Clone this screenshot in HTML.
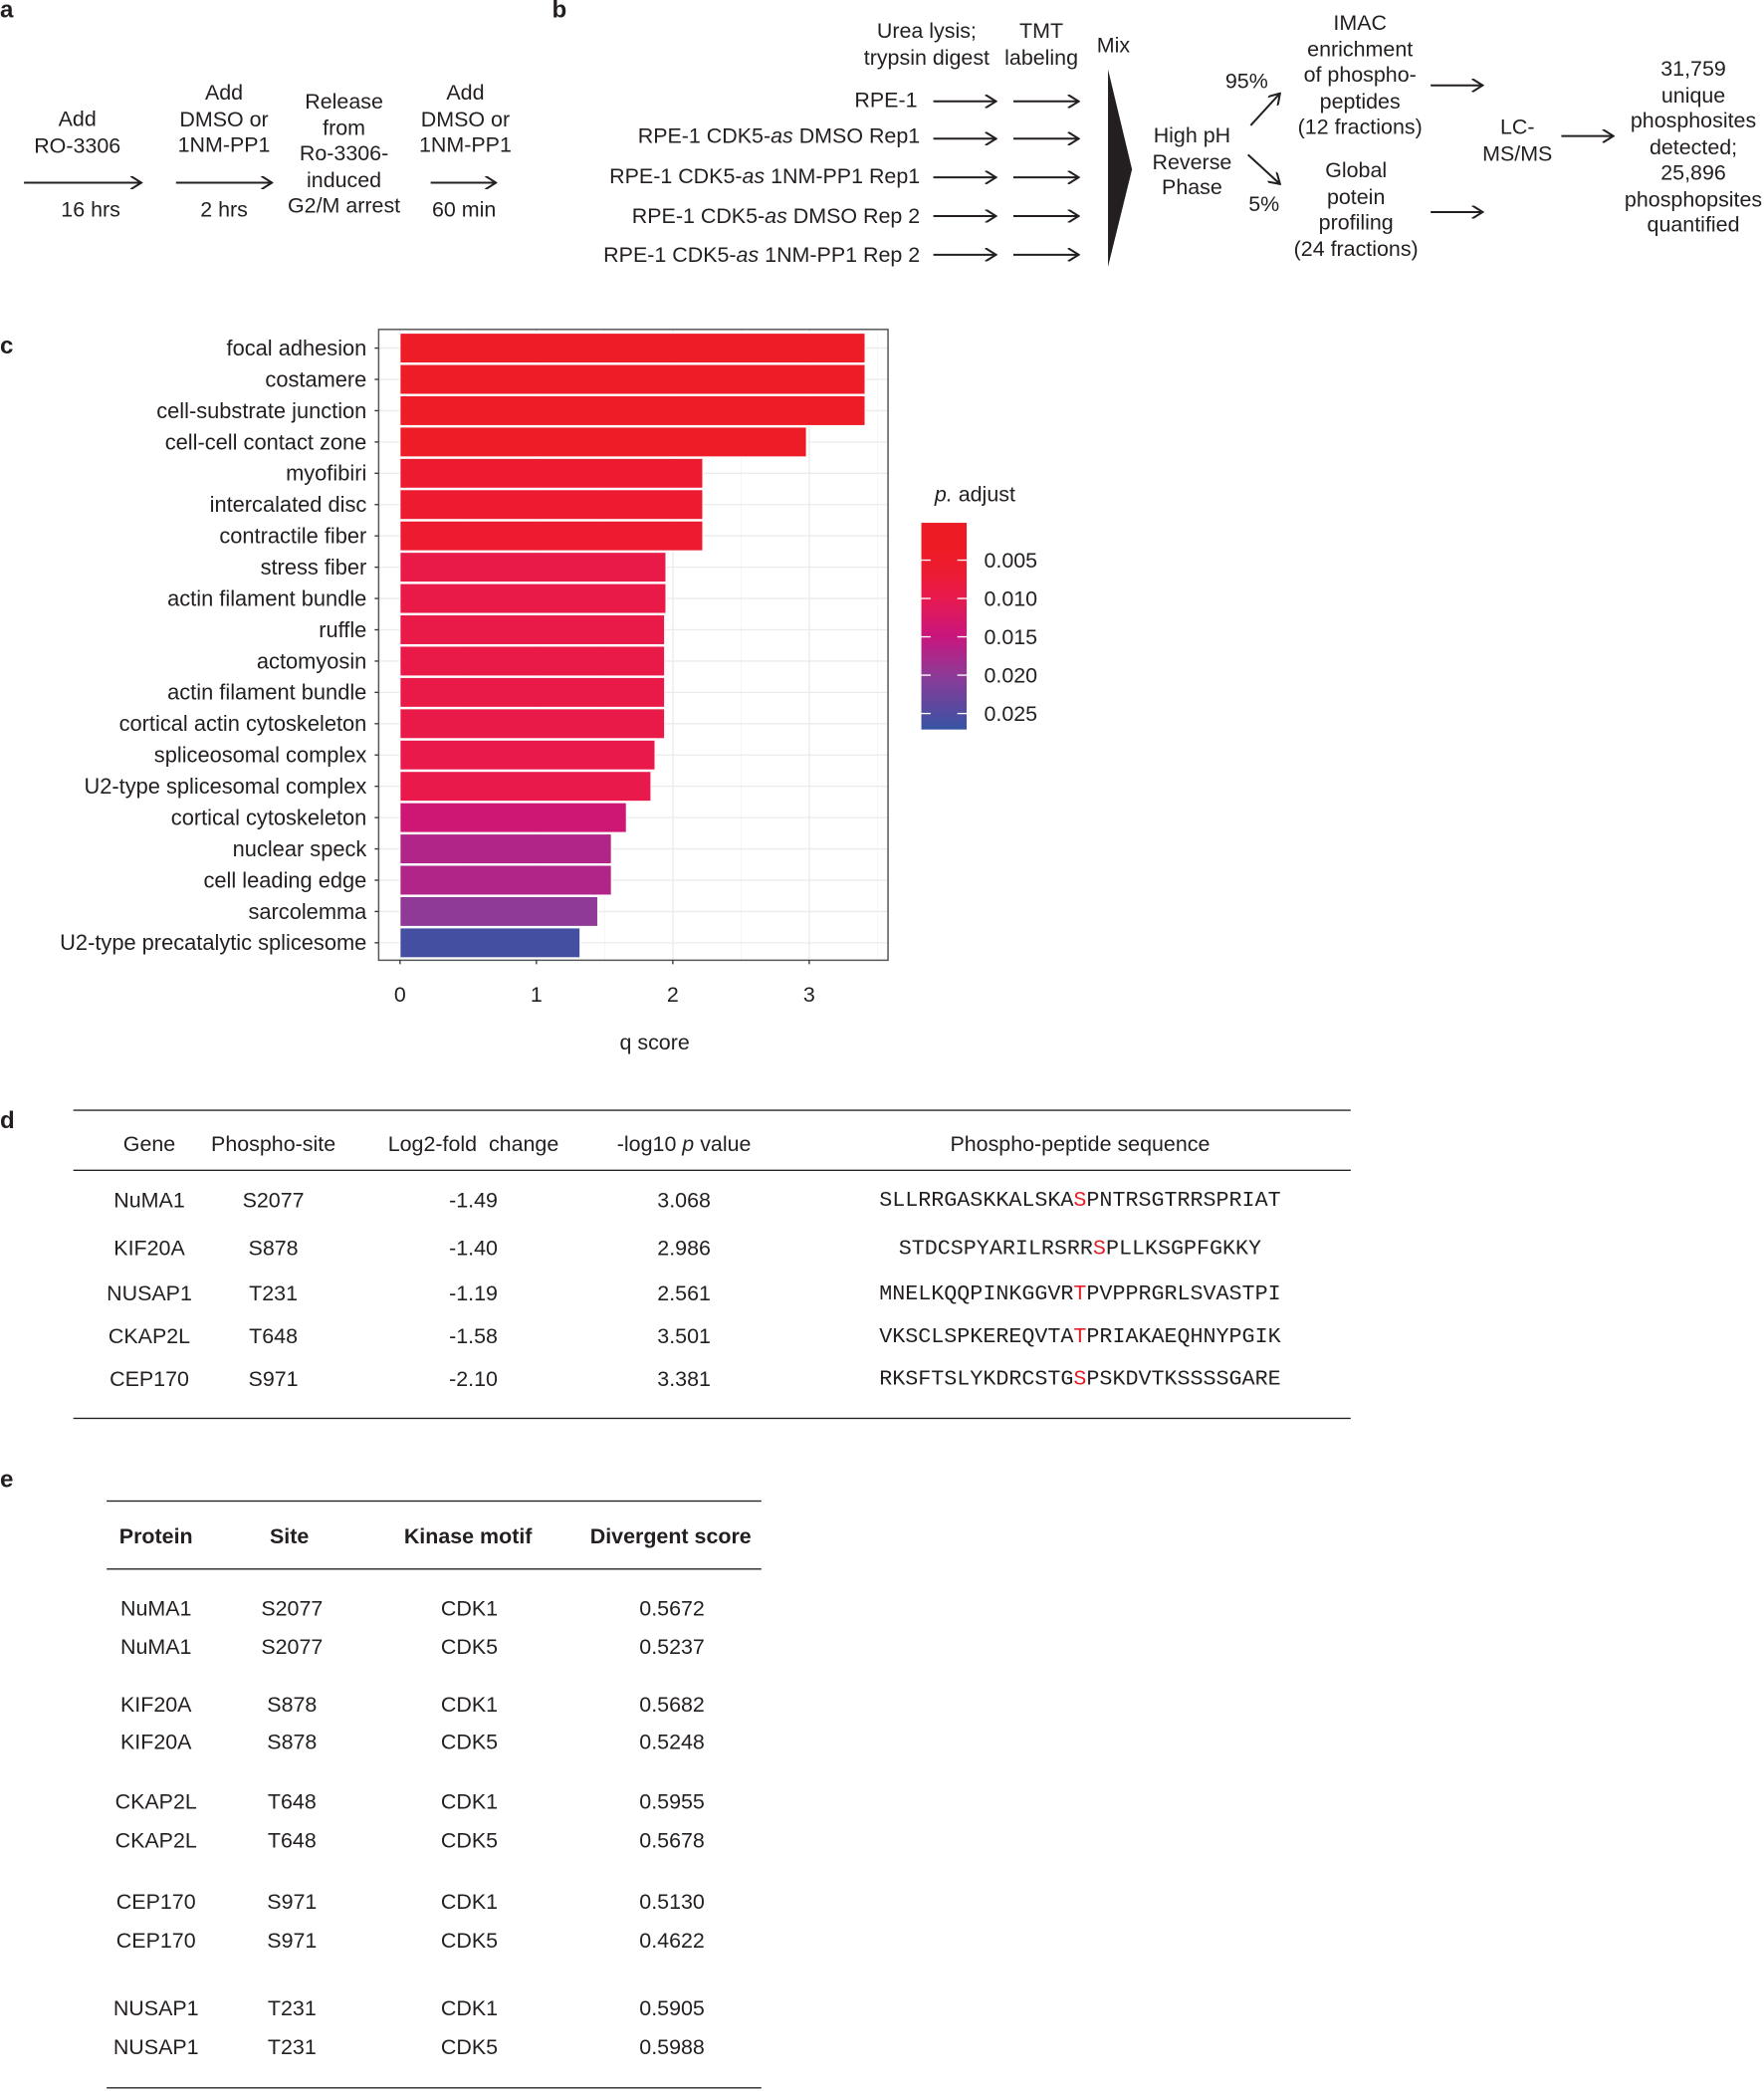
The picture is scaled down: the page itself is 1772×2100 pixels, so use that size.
<!DOCTYPE html>
<html><head><meta charset="utf-8">
<style>
body{margin:0;background:#fff;}
#page{position:relative;width:1772px;height:2100px;overflow:hidden;background:#fff;}
#s{position:absolute;left:0;top:0;width:1323px;height:1568px;transform:scale(1.3394);transform-origin:0 0;font-family:"Liberation Sans",Arial,sans-serif;font-size:16px;color:#231f20;}
.t{position:absolute;transform:translate(-50%,-50%);white-space:nowrap;text-align:center;line-height:19.5px;}
.r{position:absolute;transform:translate(-100%,-50%);white-space:nowrap;text-align:right;line-height:19.5px;}
.lbl{position:absolute;font-weight:bold;font-size:18px;}
.hl{position:absolute;height:0;border-top:1.6px solid #231f20;}
.mono{font-family:"Liberation Mono","Courier New",monospace;font-size:16.2px;}
.red{color:#e31e24;}
.b{font-weight:bold;}
svg{position:absolute;left:0;top:0;}
</style></head><body>
<div id="page"><div id="s">

<svg width="1323" height="240">
<defs><marker id="ah" markerWidth="10" markerHeight="10" refX="9" refY="5" orient="auto" markerUnits="userSpaceOnUse"><path d="M1,0 L9,5 L1,10" fill="none" stroke="#231f20" stroke-width="1.5"/></marker></defs>
<g stroke="#231f20" stroke-width="1.5">
<line x1="18" y1="137" x2="106" y2="137" marker-end="url(#ah)"/>
<line x1="132" y1="137" x2="204" y2="137" marker-end="url(#ah)"/>
<line x1="323" y1="137" x2="372" y2="137" marker-end="url(#ah)"/>
<line x1="700" y1="76" x2="747" y2="76" marker-end="url(#ah)"/><line x1="760" y1="76" x2="809" y2="76" marker-end="url(#ah)"/>
<line x1="700" y1="104" x2="747" y2="104" marker-end="url(#ah)"/><line x1="760" y1="104" x2="809" y2="104" marker-end="url(#ah)"/>
<line x1="700" y1="133" x2="747" y2="133" marker-end="url(#ah)"/><line x1="760" y1="133" x2="809" y2="133" marker-end="url(#ah)"/>
<line x1="700" y1="162" x2="747" y2="162" marker-end="url(#ah)"/><line x1="760" y1="162" x2="809" y2="162" marker-end="url(#ah)"/>
<line x1="700" y1="191" x2="747" y2="191" marker-end="url(#ah)"/><line x1="760" y1="191" x2="809" y2="191" marker-end="url(#ah)"/>
<line x1="938" y1="94" x2="960" y2="70" marker-end="url(#ah)"/>
<line x1="936" y1="116" x2="960" y2="138" marker-end="url(#ah)"/>
<line x1="1073" y1="64" x2="1112" y2="64" marker-end="url(#ah)"/>
<line x1="1073" y1="159" x2="1112" y2="159" marker-end="url(#ah)"/>
<line x1="1171" y1="102" x2="1210" y2="102" marker-end="url(#ah)"/>
</g>
<path d="M831,52 L849,127 L831,200 Z" fill="#231f20"/>
</svg>

<div class="lbl" style="left:0;top:-3px">a</div>
<div class="t" style="left:58px;top:100px">Add<br>RO-3306</div>
<div class="t" style="left:68px;top:158px">16 hrs</div>
<div class="t" style="left:168px;top:90px">Add<br>DMSO or<br>1NM-PP1</div>
<div class="t" style="left:168px;top:158px">2 hrs</div>
<div class="t" style="left:258px;top:116px">Release<br>from<br>Ro-3306-<br>induced<br>G2/M arrest</div>
<div class="t" style="left:349px;top:90px">Add<br>DMSO or<br>1NM-PP1</div>
<div class="t" style="left:348px;top:158px">60 min</div>

<div class="lbl" style="left:414px;top:-3px">b</div>
<div class="t" style="left:695px;top:34px">Urea lysis;<br>trypsin digest</div>
<div class="t" style="left:781px;top:34px">TMT<br>labeling</div>
<div class="t" style="left:835px;top:35px">Mix</div>
<div class="r" style="left:688px;top:76px">RPE-1</div>
<div class="r" style="left:690px;top:103px">RPE-1 CDK5-<i>as</i> DMSO Rep1</div>
<div class="r" style="left:690px;top:133px">RPE-1 CDK5-<i>as</i> 1NM-PP1 Rep1</div>
<div class="r" style="left:690px;top:163px">RPE-1 CDK5-<i>as</i> DMSO Rep 2</div>
<div class="r" style="left:690px;top:192px">RPE-1 CDK5-<i>as</i> 1NM-PP1 Rep 2</div>
<div class="t" style="left:894px;top:122px">High pH<br>Reverse<br>Phase</div>
<div class="t" style="left:935px;top:62px">95%</div>
<div class="t" style="left:948px;top:154px">5%</div>
<div class="t" style="left:1020px;top:57px">IMAC<br>enrichment<br>of phospho-<br>peptides<br>(12 fractions)</div>
<div class="t" style="left:1017px;top:158px">Global<br>potein<br>profiling<br>(24 fractions)</div>
<div class="t" style="left:1138px;top:106px">LC-<br>MS/MS</div>
<div class="t" style="left:1270px;top:111px">31,759<br>unique<br>phosphosites<br>detected;<br>25,896<br>phosphopsites<br>quantified</div>

<div class="lbl" style="left:0;top:249px">c</div>
<svg id="chart" width="1323" height="800"></svg>

<div class="lbl" style="left:0;top:830px">d</div>
<div class="hl" style="left:55px;width:958px;top:832px"></div>
<div class="hl" style="left:55px;width:958px;top:877px"></div>
<div class="hl" style="left:55px;width:958px;top:1063px"></div>
<div class="t" style="left:112px;top:859px">Gene</div>
<div class="t" style="left:205px;top:859px">Phospho-site</div>
<div class="t" style="left:355px;top:859px">Log2-fold&nbsp; change</div>
<div class="t" style="left:513px;top:859px">-log10 <i>p</i> value</div>
<div class="t" style="left:810px;top:859px">Phospho-peptide sequence</div>

<div>
<div class="t" style="left:112px;top:901px">NuMA1</div><div class="t" style="left:205px;top:901px">S2077</div><div class="t" style="left:355px;top:901px">-1.49</div><div class="t" style="left:513px;top:901px">3.068</div><div class="t mono" style="left:810px;top:901px">SLLRRGASKKALSKA<span class="red">S</span>PNTRSGTRRSPRIAT</div></div>
<div>
<div class="t" style="left:112px;top:937px">KIF20A</div><div class="t" style="left:205px;top:937px">S878</div><div class="t" style="left:355px;top:937px">-1.40</div><div class="t" style="left:513px;top:937px">2.986</div><div class="t mono" style="left:810px;top:937px">STDCSPYARILRSRR<span class="red">S</span>PLLKSGPFGKKY</div></div>
<div>
<div class="t" style="left:112px;top:971px">NUSAP1</div><div class="t" style="left:205px;top:971px">T231</div><div class="t" style="left:355px;top:971px">-1.19</div><div class="t" style="left:513px;top:971px">2.561</div><div class="t mono" style="left:810px;top:971px">MNELKQQPINKGGVR<span class="red">T</span>PVPPRGRLSVASTPI</div></div>
<div>
<div class="t" style="left:112px;top:1003px">CKAP2L</div><div class="t" style="left:205px;top:1003px">T648</div><div class="t" style="left:355px;top:1003px">-1.58</div><div class="t" style="left:513px;top:1003px">3.501</div><div class="t mono" style="left:810px;top:1003px">VKSCLSPKEREQVTA<span class="red">T</span>PRIAKAEQHNYPGIK</div></div>
<div>
<div class="t" style="left:112px;top:1035px">CEP170</div><div class="t" style="left:205px;top:1035px">S971</div><div class="t" style="left:355px;top:1035px">-2.10</div><div class="t" style="left:513px;top:1035px">3.381</div><div class="t mono" style="left:810px;top:1035px">RKSFTSLYKDRCSTG<span class="red">S</span>PSKDVTKSSSSGARE</div></div>

<div class="lbl" style="left:0;top:1099px">e</div>
<div class="hl" style="left:80px;width:491px;top:1125px"></div>
<div class="hl" style="left:80px;width:491px;top:1176px"></div>
<div class="hl" style="left:80px;width:491px;top:1565px"></div>
<div class="t b" style="left:117px;top:1153px">Protein</div>
<div class="t b" style="left:217px;top:1153px">Site</div>
<div class="t b" style="left:351px;top:1153px">Kinase motif</div>
<div class="t b" style="left:503px;top:1153px">Divergent score</div>
<div id="tabE"></div>

</div></div>
<script>
// ---- Panel c data ----
const terms=["focal adhesion","costamere","cell-substrate junction","cell-cell contact zone","myofibiri","intercalated disc","contractile fiber","stress fiber","actin filament bundle","ruffle","actomyosin","actin filament bundle","cortical actin cytoskeleton","spliceosomal complex","U2-type splicesomal complex","cortical cytoskeleton","nuclear speck","cell leading edge","sarcolemma","U2-type precatalytic splicesome"];
const qScores=[3.41,3.41,3.41,2.98,2.22,2.22,2.22,1.95,1.95,1.94,1.94,1.94,1.94,1.87,1.84,1.66,1.55,1.55,1.45,1.32];
const pAdjust=[0.004,0.004,0.004,0.004,0.006,0.006,0.006,0.009,0.009,0.009,0.009,0.009,0.009,0.0095,0.0095,0.014,0.017,0.017,0.020,0.026];
const xTicks=[0,1,2,3];
const legendTicks=[0.005,0.010,0.015,0.020,0.025];
const legendLabels=["0.005","0.010","0.015","0.020","0.025"];

const NS="http://www.w3.org/2000/svg";
const svg=document.getElementById('chart');
function mk(tag,attrs,parent){const e=document.createElementNS(NS,tag);for(const k in attrs)e.setAttribute(k,attrs[k]);(parent||svg).appendChild(e);return e;}
const px0=284,px1=666,py0=247,py1=720;
const xs=v=>300+v*102.3;
const ys=i=>261+i*23.47;
const stops=[[0.0035,[237,28,36]],[0.007,[236,27,52]],[0.010,[232,26,80]],[0.015,[200,22,126]],[0.020,[142,58,150]],[0.027,[56,83,164]]];
function col(p){if(p<=stops[0][0])return 'rgb('+stops[0][1]+')';for(let i=1;i<stops.length;i++){if(p<=stops[i][0]){const a=stops[i-1],b=stops[i];const t=(p-a[0])/(b[0]-a[0]);return 'rgb('+a[1].map((c,j)=>Math.round(c+(b[1][j]-c)*t)).join(',')+')';}}return 'rgb('+stops[stops.length-1][1]+')';}
const legTop=392,legBot=547;
const legY=p=>420+(p-0.005)*5750;

const panel=mk('rect',{x:px0,y:py0,width:px1-px0,height:py1-py0,fill:'#fff'});


for(let v=0.5;v<3.6;v+=1){const g=mk('line',{x1:xs(v),x2:xs(v),y1:py0,y2:py1,stroke:'#f4f4f4','stroke-width':0.6});

}
xTicks.forEach(v=>{const g=mk('line',{x1:xs(v),x2:xs(v),y1:py0,y2:py1,stroke:'#ebebeb','stroke-width':1});

});
terms.forEach((t,i)=>{const g=mk('line',{x1:px0,x2:px1,y1:ys(i),y2:ys(i),stroke:'#ebebeb','stroke-width':1});

});
terms.forEach((t,i)=>{
 const b=mk('rect',{x:xs(0),y:ys(i)-11.2,width:xs(qScores[i])-xs(0),height:22.4,fill:col(pAdjust[i]),stroke:'#fff','stroke-width':0.8});
 
 
 const tk=mk('line',{x1:px0-3,x2:px0,y1:ys(i),y2:ys(i),stroke:'#333','stroke-width':1});
 
 
 const l=mk('text',{x:px0-9,y:ys(i)+5.5,'text-anchor':'end','font-size':16.3,fill:'#231f20'});
 l.textContent=t;
 
 
});
const border=mk('rect',{x:px0,y:py0,width:px1-px0,height:py1-py0,fill:'none',stroke:'#555','stroke-width':1.1});


xTicks.forEach(v=>{const tk=mk('line',{x1:xs(v),x2:xs(v),y1:py1,y2:py1+3,stroke:'#333','stroke-width':1});


const l=mk('text',{x:xs(v),y:751,'text-anchor':'middle','font-size':16,fill:'#231f20'});l.textContent=v;

});
const xt=mk('text',{x:491,y:787,'text-anchor':'middle','font-size':16,fill:'#231f20'});xt.textContent='q score';


// legend
const lt=mk('text',{x:701,y:376,'font-size':16,fill:'#231f20'});


const ti=mk('tspan',{'font-style':'italic'},lt);ti.textContent='p.';const tr=mk('tspan',{},lt);tr.textContent=' adjust';
const defs=mk('defs',{});const lg=mk('linearGradient',{id:'lg',x1:0,y1:0,x2:0,y2:1},defs);
stops.forEach(s=>{const off=Math.max(0,Math.min(1,(legY(s[0])-legTop)/(legBot-legTop)));mk('stop',{offset:off,'stop-color':col(s[0])},lg);});
const lb=mk('rect',{x:691,y:legTop,width:34,height:legBot-legTop,fill:'url(#lg)'});


legendTicks.forEach((p,i)=>{const y=legY(p);
mk('line',{x1:691,x2:698,y1:y,y2:y,stroke:'#fff','stroke-width':1});mk('line',{x1:718,x2:725,y1:y,y2:y,stroke:'#fff','stroke-width':1});
const l=mk('text',{x:738,y:y+5.5,'font-size':16,fill:'#231f20'});l.textContent=legendLabels[i];

});

// ---- Panel e table ----
const eRows=[["NuMA1","S2077","CDK1","0.5672",1207],["NuMA1","S2077","CDK5","0.5237",1236],["KIF20A","S878","CDK1","0.5682",1279],["KIF20A","S878","CDK5","0.5248",1307],["CKAP2L","T648","CDK1","0.5955",1352],["CKAP2L","T648","CDK5","0.5678",1381],["CEP170","S971","CDK1","0.5130",1427],["CEP170","S971","CDK5","0.4622",1456],["NUSAP1","T231","CDK1","0.5905",1507],["NUSAP1","T231","CDK5","0.5988",1536]];
const tb=document.getElementById('tabE');const cx=[117,219,352,504];
eRows.forEach(r=>{const row=document.createElement('div');


for(let j=0;j<4;j++){const c=document.createElement('div');c.className='t';c.style.left=cx[j]+'px';c.style.top=r[4]+'px';c.textContent=r[j];row.appendChild(c);}tb.appendChild(row);});
</script>
</body></html>
